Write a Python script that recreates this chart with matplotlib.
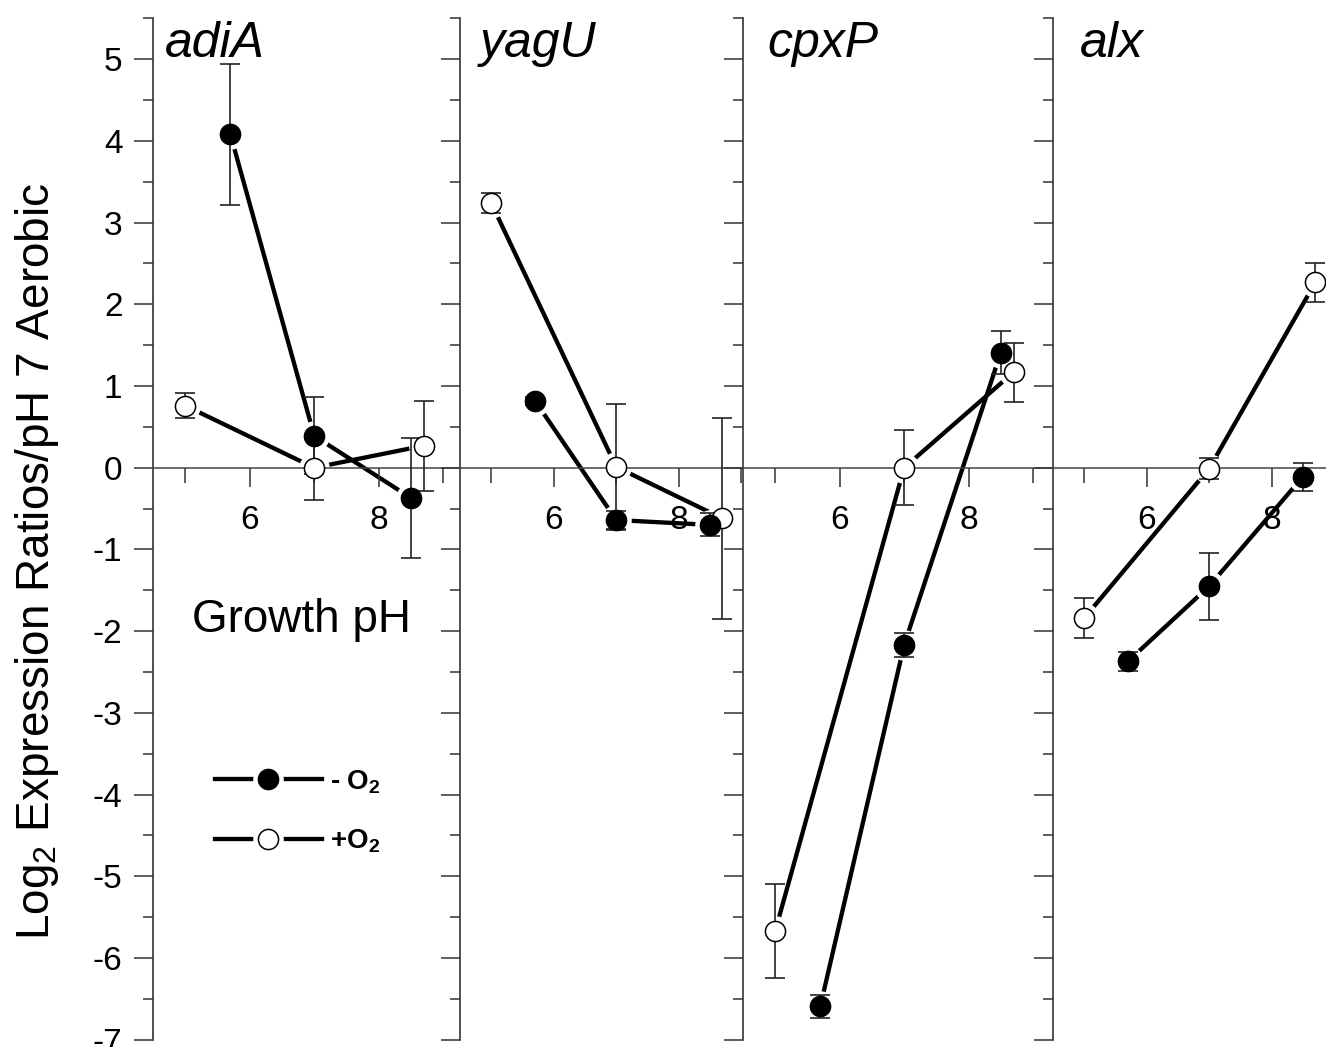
import numpy as np
import matplotlib
matplotlib.use("Agg")
import matplotlib.pyplot as plt
from matplotlib.lines import Line2D
from matplotlib.ticker import FixedLocator, MultipleLocator

plt.rcParams['font.family'] = ['Liberation Sans', 'DejaVu Sans']
plt.rcParams['mathtext.fontset'] = 'custom'
plt.rcParams['mathtext.rm'] = 'Liberation Sans'
plt.rcParams['mathtext.it'] = 'Liberation Sans:italic'
plt.rcParams['mathtext.bf'] = 'Liberation Sans:bold'
plt.rcParams['axes.unicode_minus'] = False

# data: growth pH of each condition
ph_anaer = [5.7, 7.0, 8.5]
ph_aer = [5.0, 7.0, 8.7]

genes = ['adiA', 'yagU', 'cpxP', 'alx']

# log2 expression ratio (vs pH 7 aerobic) and error
adiA_anaer = [4.08, 0.39, -0.37]
adiA_anaer_err = [0.86, 0.47, 0.74]
adiA_aer = [0.76, 0.0, 0.27]
adiA_aer_err = [0.15, 0.40, 0.55]

yagU_anaer = [0.82, -0.64, -0.70]
yagU_anaer_err = [0.05, 0.11, 0.14]
yagU_aer = [3.24, 0.01, -0.62]
yagU_aer_err = [0.12, 0.77, 1.23]

cpxP_anaer = [-6.59, -2.17, 1.41]
cpxP_anaer_err = [0.14, 0.15, 0.26]
cpxP_aer = [-5.67, 0.0, 1.17]
cpxP_aer_err = [0.57, 0.46, 0.36]

alx_anaer = [-2.37, -1.45, -0.11]
alx_anaer_err = [0.12, 0.41, 0.17]
alx_aer = [-1.84, -0.01, 2.27]
alx_aer_err = [0.25, 0.13, 0.24]

anaer = [adiA_anaer, yagU_anaer, cpxP_anaer, alx_anaer]
anaer_err = [adiA_anaer_err, yagU_anaer_err, cpxP_anaer_err, alx_anaer_err]
aer = [adiA_aer, yagU_aer, cpxP_aer, alx_aer]
aer_err = [adiA_aer_err, yagU_aer_err, cpxP_aer_err, alx_aer_err]

# panel layout (pixels) and x range
W, H = 1326, 1047
panel_px = [(153, 460), (460, 743), (743, 1053), (1053, 1326)]
xmax = [9.26, 9.03, 9.31, 8.87]
title_x = [0.04, 0.07, 0.08, 0.10]
y_bot, y_top = 1039.6, 18.4

fig = plt.figure(figsize=(W / 100, H / 100), dpi=100)


def draw_series(ax, x, y, err, face):
    ax.plot(x, y, '-', color='black', lw=3.1, zorder=1, clip_on=False)
    ax.plot(x, y, 'o', ls='none', ms=22, mfc='white', mec='none', zorder=1.5, clip_on=False)
    ax.errorbar(x, y, yerr=err, fmt='none', ecolor='#222222', elinewidth=1.2,
                capsize=7, capthick=1.2, zorder=3, clip_on=False)
    ax.plot(x, y, 'o', ls='none', ms=14.5, mfc=face, mec='black', mew=1.1, zorder=4, clip_on=False)


axes = []
for i, g in enumerate(genes):
    l, r = panel_px[i]
    ax = fig.add_axes([l / W, (H - y_bot) / H, (r - l) / W, (y_bot - y_top) / H])
    ax.set_facecolor('none')
    ax.set_xlim(4.5, xmax[i])
    ax.set_ylim(-7, 5.5)
    for s in ['top', 'right']:
        ax.spines[s].set_visible(False)
    ax.spines['bottom'].set_position(('data', 0))
    ax.spines['bottom'].set_color('#444444')
    ax.spines['bottom'].set_linewidth(1.1)
    ax.spines['left'].set_color('#333333')
    ax.spines['left'].set_linewidth(1.2)

    ax.xaxis.set_major_locator(FixedLocator([6, 8]))
    ax.xaxis.set_minor_locator(FixedLocator([5, 7, 9]))
    ax.yaxis.set_major_locator(MultipleLocator(1))
    ax.yaxis.set_minor_locator(MultipleLocator(0.5))
    ax.tick_params(axis='y', which='major', direction='out', length=14, width=1.1,
                   color='#333333', labelsize=24, pad=8)
    ax.tick_params(axis='y', which='minor', direction='out', length=7.5, width=1.1, color='#333333')
    ax.tick_params(axis='x', which='major', direction='out', length=13.5, width=1.1,
                   color='#333333', labelsize=24, pad=13)
    ax.tick_params(axis='x', which='minor', direction='out', length=10.5, width=1.1, color='#333333')
    if i > 0:
        ax.tick_params(axis='y', labelleft=False)

    draw_series(ax, ph_aer, aer[i], aer_err[i], 'white')
    draw_series(ax, ph_anaer, anaer[i], anaer_err[i], 'black')

    ax.text(title_x[i], 0.997, g, transform=ax.transAxes, ha='left', va='top',
            fontsize=36, style='italic')
    axes.append(ax)

ax0 = axes[0]
ax0.text(0.485, 0.399, 'Growth pH', transform=ax0.transAxes, ha='center', va='baseline', fontsize=33)

fig.text(37 / W, 1 - 561 / H, r'Log$_2$ Expression Ratios/pH 7 Aerobic', rotation=90,
         ha='center', va='center', fontsize=33)

# legend
h_anaer = (Line2D([], [], color='black', lw=3.1),
           Line2D([], [], ls='none', marker='o', ms=22, mfc='white', mec='none'),
           Line2D([], [], ls='none', marker='o', ms=14.5, mfc='black', mec='black', mew=1.1))
h_aer = (Line2D([], [], color='black', lw=3.1),
         Line2D([], [], ls='none', marker='o', ms=22, mfc='white', mec='none'),
         Line2D([], [], ls='none', marker='o', ms=14.5, mfc='white', mec='black', mew=1.1))
fig.legend([h_anaer, h_aer], [r'- O$_\mathbf{2}$', r'+O$_\mathbf{2}$'],
           loc='upper left', bbox_to_anchor=(215 / W, 1 - 768 / H),
           frameon=False, borderpad=0, borderaxespad=0, handlelength=3.85,
           handletextpad=0.3, labelspacing=1.15, prop={'weight': 'bold', 'size': 20})

fig.savefig('out.png', dpi=100)
